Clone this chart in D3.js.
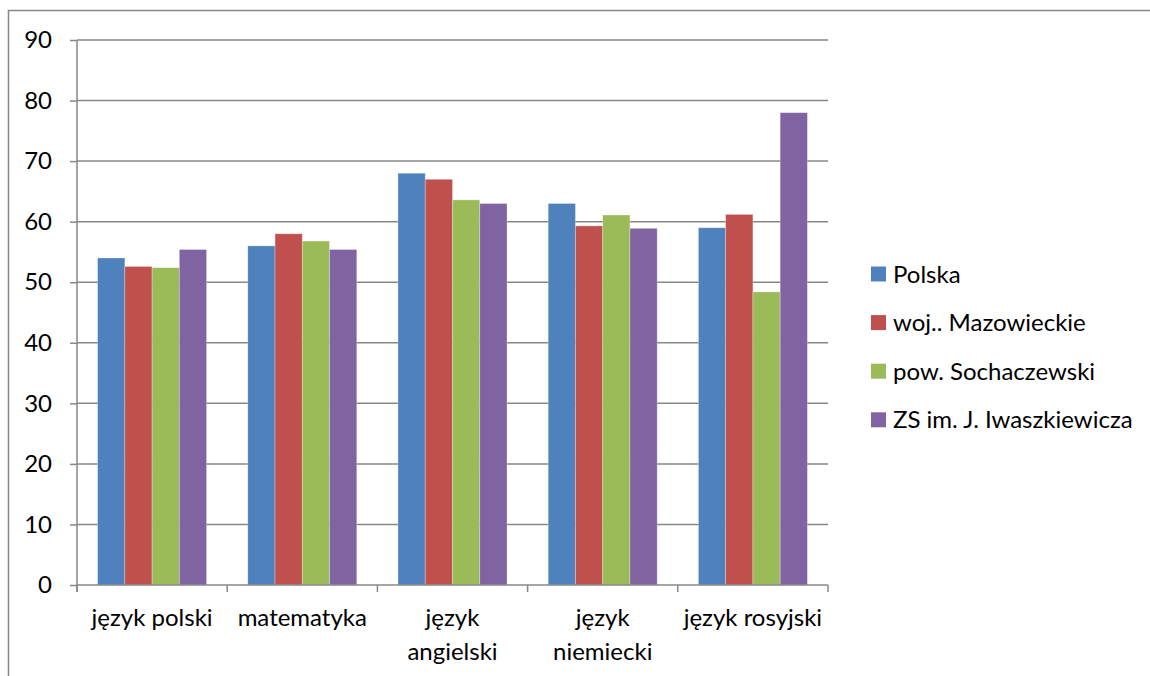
<!DOCTYPE html>
<html>
<head>
<meta charset="utf-8">
<script src="https://cdn.jsdelivr.net/npm/d3@7"></script>
<style>
  body { margin: 0; background: #fff; }
  text { font-family: Lato, "Open Sans", sans-serif; fill: #000; }
</style>
</head>
<body>
<div id="chart"></div>
<script>
// categories and series
const categories = ["język polski", "matematyka", "język angielski", "język niemiecki", "język rosyjski"];
const categoryLines = [["język polski"], ["matematyka"], ["język", "angielski"], ["język", "niemiecki"], ["język rosyjski"]];
const seriesNames = ["Polska", "woj.. Mazowieckie", "pow. Sochaczewski", "ZS im. J. Iwaszkiewicza"];
const polska = [54, 56, 68, 63, 59];
const mazowieckie = [52.6, 58, 67, 59.3, 61.2];
const sochaczewski = [52.4, 56.8, 63.6, 61.1, 48.4];
const iwaszkiewicza = [55.4, 55.4, 63, 58.9, 78];
const yTicks = [0, 10, 20, 30, 40, 50, 60, 70, 80, 90];
const colors = ["#4f81bd", "#c0504d", "#9bbb59", "#8064a2"];

const seriesValues = [polska, mazowieckie, sochaczewski, iwaszkiewicza];

const width = 1150;
const height = 676;
const margin = { top: 40, right: 322, bottom: 91, left: 77 };
const grey = "#878787";
const fontSize = 24;

const svg = d3.select("#chart")
  .append("svg")
  .attr("width", width)
  .attr("height", height);

// outer frame of the chart area
svg.append("rect")
  .attr("x", 8.5)
  .attr("y", 10.5)
  .attr("width", width + 20)
  .attr("height", height + 20)
  .attr("fill", "none")
  .attr("stroke", grey)
  .attr("stroke-width", 1.5);

const xScale = d3.scaleBand()
  .domain(categories)
  .range([margin.left, width - margin.right])
  .padding(0);

const xInner = d3.scaleBand()
  .domain(seriesNames)
  .range([0, xScale.bandwidth()])
  .paddingInner(0)
  .paddingOuter(0.756);

const yScale = d3.scaleLinear()
  .domain([0, 90])
  .range([height - margin.bottom, margin.top]);

// gridlines
svg.append("g")
  .selectAll("line")
  .data(yTicks.slice(1))
  .enter()
  .append("line")
  .attr("x1", margin.left)
  .attr("x2", width - margin.right)
  .attr("y1", d => yScale(d))
  .attr("y2", d => yScale(d))
  .attr("stroke", grey)
  .attr("stroke-width", 1.5);

// bars
const groups = svg.append("g")
  .selectAll("g")
  .data(categories)
  .enter()
  .append("g")
  .attr("transform", d => `translate(${xScale(d)},0)`);

groups.selectAll("rect")
  .data((c, i) => seriesNames.map((s, j) => ({ series: s, value: seriesValues[j][i], color: colors[j] })))
  .enter()
  .append("rect")
  .attr("x", d => xInner(d.series))
  .attr("width", xInner.bandwidth())
  .attr("y", d => yScale(d.value))
  .attr("height", d => yScale(0) - yScale(d.value))
  .attr("fill", d => d.color)
  .attr("stroke", "rgba(255,255,255,0.35)")
  .attr("stroke-width", 0.8);

// y axis
const yAxis = d3.axisLeft(yScale)
  .tickValues(yTicks)
  .tickSize(7)
  .tickPadding(18);

const yAxisGroup = svg.append("g")
  .attr("transform", `translate(${margin.left},0)`)
  .call(yAxis);
yAxisGroup.select(".domain").remove();
yAxisGroup.append("line")
  .attr("y1", yScale(90))
  .attr("y2", yScale(0) + 7)
  .attr("stroke", grey)
  .attr("stroke-width", 1.5);
yAxisGroup.selectAll(".tick line").attr("stroke", grey).attr("stroke-width", 1.5);
yAxisGroup.selectAll(".tick text")
  .attr("font-size", fontSize)
  .attr("font-family", "Lato, sans-serif")
  .attr("fill", "#000");

// x axis
const bottomY = yScale(0);
svg.append("line")
  .attr("x1", margin.left)
  .attr("x2", width - margin.right)
  .attr("y1", bottomY)
  .attr("y2", bottomY)
  .attr("stroke", grey)
  .attr("stroke-width", 1.5);

const boundaries = categories.map(c => xScale(c)).concat([xScale.range()[1]]);
svg.append("g")
  .selectAll("line")
  .data(boundaries)
  .enter()
  .append("line")
  .attr("x1", d => d)
  .attr("x2", d => d)
  .attr("y1", bottomY)
  .attr("y2", bottomY + 7)
  .attr("stroke", grey)
  .attr("stroke-width", 1.5);

const labels = svg.append("g")
  .selectAll("text")
  .data(categories)
  .enter()
  .append("text")
  .attr("x", d => xScale(d) + xScale.bandwidth() / 2)
  .attr("y", bottomY + 41)
  .attr("text-anchor", "middle")
  .attr("font-size", fontSize);

labels.selectAll("tspan")
  .data((d, i) => categoryLines[i])
  .enter()
  .append("tspan")
  .attr("x", function() { return d3.select(this.parentNode).attr("x"); })
  .attr("dy", (d, i) => i === 0 ? 0 : 34)
  .text(d => d);

// legend
const legend = svg.append("g")
  .selectAll("g")
  .data(seriesNames)
  .enter()
  .append("g")
  .attr("transform", (d, i) => `translate(871,${274 + i * 48.6})`);

legend.append("rect")
  .attr("x", 0)
  .attr("y", -7.5)
  .attr("width", 15)
  .attr("height", 15)
  .attr("fill", (d, i) => colors[i]);

legend.append("text")
  .attr("x", 22)
  .attr("y", 8.5)
  .attr("font-size", fontSize)
  .text(d => d);
</script>
</body>
</html>
